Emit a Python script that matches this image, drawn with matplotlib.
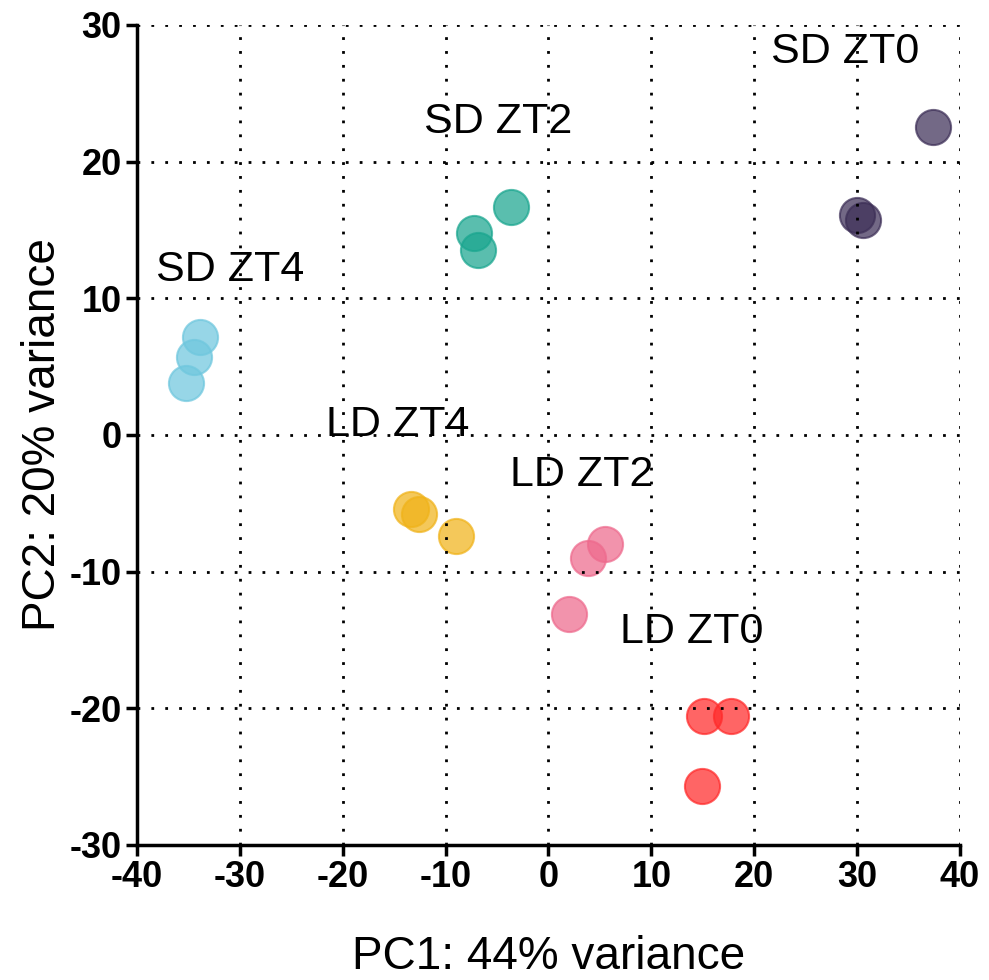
import matplotlib.pyplot as plt
import numpy as np

plt.rcParams['font.family'] = ['Liberation Sans', 'DejaVu Sans']
plt.rcParams['axes.unicode_minus'] = False

# %% Data (PCA coordinates)

groups = ['SD ZT0', 'SD ZT2', 'SD ZT4', 'LD ZT4', 'LD ZT2', 'LD ZT0']
colors = ['#3d2f57', '#1aa68f', '#6fc7de', '#f0b31a', '#ee6a8d', '#ff2a2a']

pc1 = [
    [37.4, 30.0, 30.6],
    [-3.6, -7.2, -6.9],
    [-33.9, -34.5, -35.2],
    [-13.4, -12.6, -9.0],
    [5.5, 3.8, 2.0],
    [15.1, 17.7, 14.9],
]
pc2 = [
    [22.5, 16.1, 15.7],
    [16.7, 14.8, 13.5],
    [7.2, 5.7, 3.8],
    [-5.4, -5.8, -7.4],
    [-8.0, -9.0, -13.1],
    [-20.6, -20.6, -25.7],
]

# label positions (centre of text)
label_x = [28.8, -4.9, -30.9, -14.7, 3.2, 13.9]
label_y = [28.0, 22.9, 12.1, 0.7, -2.9, -14.4]

# %% Plot

fig = plt.figure(figsize=(9.89, 9.80), dpi=100)
ax = fig.add_axes([0.1385, 0.1378, 0.8322, 0.8367])

for g, c, xs, ys in zip(groups, colors, pc1, pc2):
    ax.scatter(xs, ys, s=640, color=c, alpha=0.72, edgecolors=c, linewidths=1.5, zorder=2)

for g, lx, ly in zip(groups, label_x, label_y):
    ax.text(lx, ly, g, fontsize=31, ha='center', va='center', zorder=4)

ax.set_xlim(-40, 40)
ax.set_ylim(-30, 30)
ax.set_xticks(np.arange(-40, 41, 10))
ax.set_yticks(np.arange(-30, 31, 10))

ax.grid(True, color='black', linestyle=(0, (1, 4)), linewidth=2, zorder=3)
ax.set_axisbelow(False)

for side in ['top', 'right']:
    ax.spines[side].set_visible(False)
for side in ['left', 'bottom']:
    ax.spines[side].set_linewidth(2.5)

ax.tick_params(direction='out', length=8, width=2.5, labelsize=26, pad=3)
for lab in ax.get_xticklabels() + ax.get_yticklabels():
    lab.set_fontweight('bold')

ax.set_xlabel('PC1: 44% variance', fontsize=33)
ax.set_ylabel('PC2: 20% variance', fontsize=33)
ax.xaxis.set_label_coords(0.5, -0.11)
ax.yaxis.set_label_coords(-0.088, 0.5)

fig.savefig('out.png', dpi=100)
